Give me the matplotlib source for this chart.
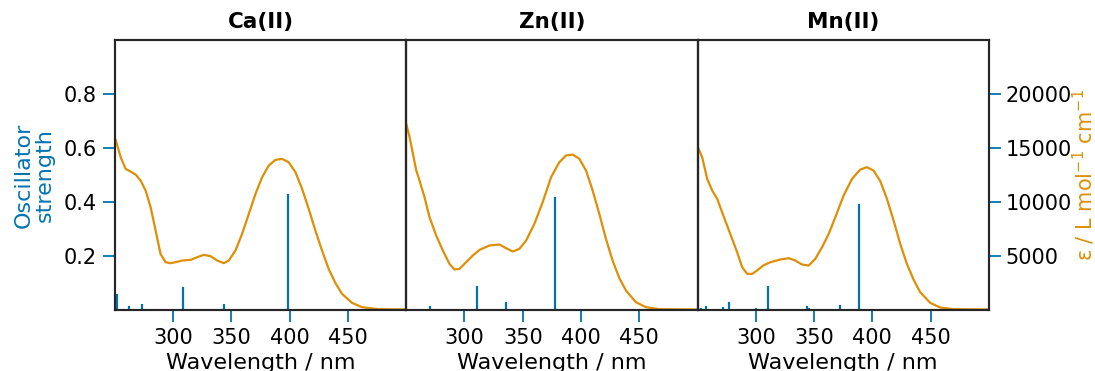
import numpy as np
import matplotlib
matplotlib.use("Agg")
import matplotlib.pyplot as plt

# colours
blue = "#0173B2"
orange = "#DE8F05"

titles = ["Ca(II)", "Zn(II)", "Mn(II)"]

# calculated transitions (wavelength nm, oscillator strength)
ca_sticks_wl = [252, 262, 273, 280.7, 308.6, 343.5, 398.6]
ca_sticks_f = [0.060, 0.015, 0.024, 0.003, 0.084, 0.021, 0.430]
zn_sticks_wl = [260, 270, 310.9, 336, 377.7]
zn_sticks_f = [0.003, 0.013, 0.090, 0.031, 0.419]
mn_sticks_wl = [253.1, 256.9, 268.3, 271.7, 277.4, 281.1, 300, 310.6, 343.7, 346, 372, 388.9]
mn_sticks_f = [0.008, 0.013, 0.004, 0.010, 0.029, 0.004, 0.009, 0.088, 0.013, 0.008, 0.017, 0.393]

# experimental spectra (wavelength nm, epsilon)
ca_wl = [250.6, 254.9, 259.1, 263.4, 267.7, 272, 276.3, 280.6, 284.9, 289.1, 293.4,
         297.7, 302, 307.7, 314.9, 320.6, 326.3, 332, 337.7, 343.4, 347.7, 353.4,
         359.1, 364.9, 370.6, 376.3, 382, 387.7, 393.4, 399.1, 404.9, 410.6, 416.3,
         422, 427.7, 433.4, 439.1, 444.9, 453.4, 462, 476.3, 500]
ca_eps = [15756, 14151, 13071, 12824, 12546, 11991, 11065, 9522, 7361, 5200, 4429,
          4336, 4429, 4583, 4645, 4892, 5108, 4985, 4583, 4336, 4583, 5509,
          7052, 8904, 10756, 12299, 13380, 13904, 13997, 13688, 12762, 11219, 9367,
          7361, 5509, 3812, 2515, 1497, 664, 262, 77, 46]

zn_wl = [250, 252.9, 258.6, 261.4, 265.7, 270, 275.7, 281.4, 287.1, 291.4, 295.7,
         301.4, 307.1, 312.9, 321.4, 330, 335.7, 341.4, 347.1, 352.9, 360, 367.1,
         374.3, 381.4, 387.1, 392.9, 398.6, 404.3, 410, 415.7, 421.4, 427.1, 432.9,
         438.6, 447.1, 455.7, 467.1, 500]
zn_eps = [17238, 16003, 12917, 11991, 10448, 8596, 6898, 5509, 4275, 3750, 3812,
          4429, 5046, 5571, 5972, 6065, 5725, 5417, 5664, 6435, 7978, 9985,
          12299, 13688, 14306, 14398, 13997, 12917, 11065, 8904, 6589, 4583, 2948,
          1806, 725, 262, 77, 46]

mn_wl = [250.3, 254, 258.3, 262.6, 266.9, 271.1, 275.4, 279.7, 284, 288.3, 292.6,
         296.9, 301.1, 306.9, 312.6, 321.1, 328.3, 334, 339.7, 345.4, 351.1, 356.9,
         362.6, 368.3, 375.4, 382.6, 389.7, 395.4, 401.1, 406.9, 412.6, 418.3, 424,
         429.7, 435.4, 441.1, 449.7, 458.3, 469.7, 500]
mn_eps = [15077, 14151, 12145, 11065, 10293, 9058, 7824, 6589, 5355, 3966, 3349,
          3349, 3657, 4151, 4429, 4676, 4799, 4583, 4213, 4120, 4738, 5818,
          7052, 8596, 10602, 12145, 13009, 13225, 12917, 11929, 10293, 8287, 6127,
          4275, 2824, 1651, 664, 231, 77, 46]

sticks = [(ca_sticks_wl, ca_sticks_f), (zn_sticks_wl, zn_sticks_f), (mn_sticks_wl, mn_sticks_f)]
spectra = [(ca_wl, ca_eps), (zn_wl, zn_eps), (mn_wl, mn_eps)]

fig, axes = plt.subplots(1, 3, figsize=(10.95, 3.71), dpi=100, sharey=True)
fig.subplots_adjust(left=0.105, right=0.903, top=0.892, bottom=0.1644, wspace=0)

for i, ax in enumerate(axes):
    wl, f = sticks[i]
    ax.vlines(wl, 0, f, color=blue, lw=1.6)
    ax.set_xlim(250, 500)
    ax.set_ylim(0, 1.0)
    ax.set_xticks([300, 350, 400, 450])
    ax.set_yticks([0.2, 0.4, 0.6, 0.8])
    ax.set_title(titles[i], fontsize=15.5, fontweight="bold", pad=8.5)
    ax.set_xlabel("Wavelength / nm", fontsize=16, labelpad=3)
    ax.tick_params(axis="both", direction="out", length=8.3, width=1.3,
                   color=blue, labelsize=15, pad=5)
    for s in ax.spines.values():
        s.set_color("#262626")
        s.set_linewidth(1.5)

    ax2 = ax.twinx()
    x, e = spectra[i]
    ax2.plot(x, e, color=orange, lw=1.6)
    ax2.set_ylim(0, 25000)
    ax2.set_yticks([5000, 10000, 15000, 20000])
    ax2.tick_params(axis="y", direction="out", length=8.3, width=1.3,
                    color=blue, labelsize=15, pad=4)
    for s in ax2.spines.values():
        s.set_color("#262626")
        s.set_linewidth(1.5)
    if i < 2:
        ax2.tick_params(axis="y", right=False, labelright=False)
    else:
        ax2.set_ylabel(r"ε / L mol$^{-1}$ cm$^{-1}$", color=orange, fontsize=15, labelpad=-1)
    if i > 0:
        ax.tick_params(axis="y", left=False, labelleft=False)
    ax.set_zorder(ax2.get_zorder() + 1)
    ax.patch.set_visible(False)

axes[0].set_ylabel("Oscillator\nstrength", color=blue, fontsize=16, labelpad=6,
                   linespacing=1.1)

fig.savefig("out.png", dpi=100)
